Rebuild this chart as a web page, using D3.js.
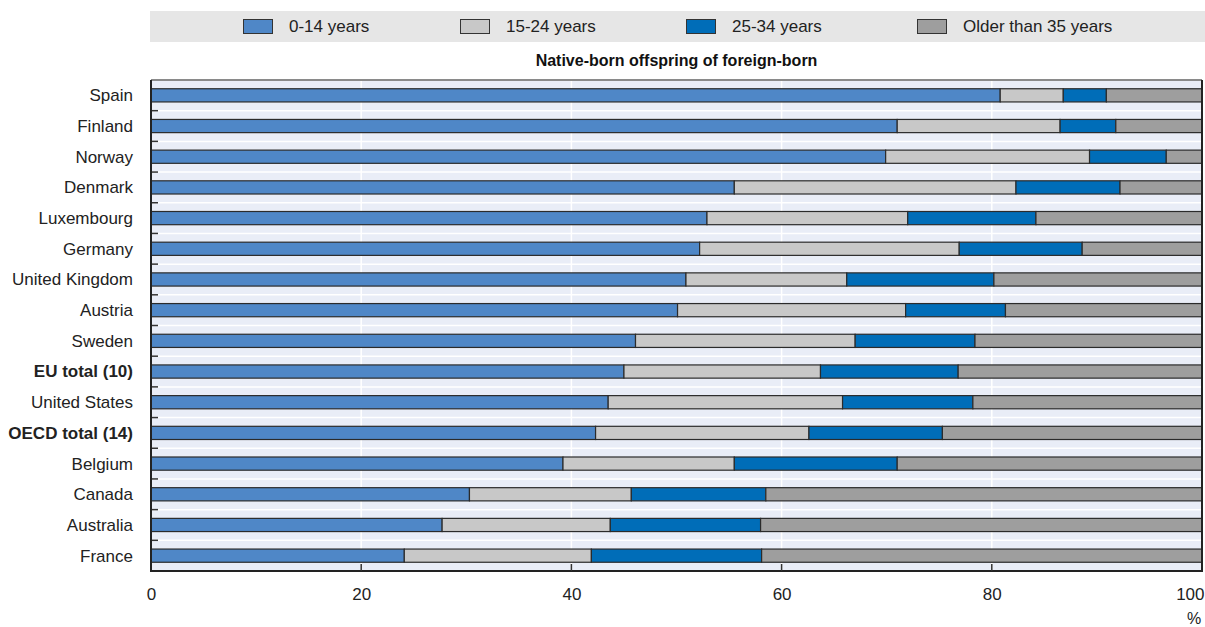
<!DOCTYPE html>
<html>
<head>
<meta charset="utf-8">
<script src="https://cdn.jsdelivr.net/npm/d3@7"></script>
<style>
  body { margin: 0; background: #fff; }
  svg { display: block; font-family: "Liberation Sans", Arial, sans-serif; }
</style>
</head>
<body>
<svg id="chart" width="1205" height="627"></svg>
<script>
// Age breakdown of native-born offspring of foreign-born parents (%)
const countries = ["Spain", "Finland", "Norway", "Denmark", "Luxembourg", "Germany",
  "United Kingdom", "Austria", "Sweden", "EU total (10)", "United States",
  "OECD total (14)", "Belgium", "Canada", "Australia", "France"];
const boldRows = ["EU total (10)", "OECD total (14)"];

const age0to14  = [80.8, 71.0, 69.9, 55.5, 52.9, 52.2, 50.9, 50.1, 46.1, 45.0, 43.5, 42.3, 39.2, 30.3, 27.7, 24.1];
const age15to24 = [6.0, 15.5, 19.4, 26.8, 19.1, 24.7, 15.3, 21.7, 20.9, 18.7, 22.3, 20.3, 16.3, 15.4, 16.0, 17.8];
const age25to34 = [4.1, 5.3, 7.3, 9.9, 12.2, 11.7, 14.0, 9.5, 11.4, 13.1, 12.4, 12.7, 15.5, 12.8, 14.3, 16.2];
const age35plus = [9.1, 8.2, 3.4, 7.8, 15.8, 11.4, 19.8, 18.7, 21.6, 23.2, 21.8, 24.7, 29.0, 41.5, 42.0, 41.9];

const seriesNames = ["0-14 years", "15-24 years", "25-34 years", "Older than 35 years"];
const seriesColors = ["#4f87c7", "#c8c8c8", "#006db8", "#9e9e9e"];
const xTicks = [0, 20, 40, 60, 80, 100];
const chartTitle = "Native-born offspring of foreign-born";
const unitLabel = "%";

const svg = d3.select("#chart");
const plot = { left: 151, right: 1202, top: 80, bottom: 571 };

const rows = countries.map((c, i) => ({
  name: c,
  values: [age0to14[i], age15to24[i], age25to34[i], age35plus[i]]
}));
const keys = [0, 1, 2, 3];
const stacked = d3.stack().keys(keys).value((d, k) => d.values[k])(rows);

const x = d3.scaleLinear().domain([0, 100]).range([plot.left, plot.right]);
const y = d3.scaleBand().domain(countries).range([plot.top, plot.bottom]).paddingInner(0.57).paddingOuter(0.285);
const band = d3.scaleBand().domain(countries).range([plot.top, plot.bottom]);

// Legend strip
const legend = svg.append("g");
legend.append("rect").attr("x", 150).attr("y", 11).attr("width", 1055).attr("height", 31).attr("fill", "#e6e6e6");
const legendX = [243, 460, 686, 917];
seriesNames.forEach((name, i) => {
  legend.append("rect")
    .attr("x", legendX[i] + 0.5).attr("y", 19.5).attr("width", 29).attr("height", 14)
    .attr("fill", seriesColors[i]).attr("stroke", "#333").attr("stroke-width", 1);
  legend.append("text")
    .attr("x", legendX[i] + 46).attr("y", 32)
    .attr("font-size", 17).attr("fill", "#222").text(name);
});

// Title
svg.append("text")
  .attr("x", (plot.left + plot.right) / 2).attr("y", 66)
  .attr("text-anchor", "middle").attr("font-size", 16).attr("font-weight", "bold")
  .attr("fill", "#111").text(chartTitle);

// Plot background
svg.append("rect")
  .attr("x", plot.left).attr("y", plot.top)
  .attr("width", plot.right - plot.left).attr("height", plot.bottom - plot.top)
  .attr("fill", "#e9edf7");

// Vertical grid lines
svg.append("g").selectAll("line").data(xTicks.slice(1, -1)).join("line")
  .attr("x1", d => x(d)).attr("x2", d => x(d))
  .attr("y1", plot.top).attr("y2", plot.bottom)
  .attr("stroke", "#fff").attr("stroke-width", 1.5);

// Horizontal separators between rows, with short ticks on the left
const seps = countries.slice(1).map(c => band(c));
svg.append("g").selectAll("line").data(seps).join("line")
  .attr("x1", plot.left).attr("x2", plot.right)
  .attr("y1", d => d).attr("y2", d => d)
  .attr("stroke", "#fff").attr("stroke-width", 1.5);
svg.append("g").selectAll("line").data(seps).join("line")
  .attr("x1", plot.left).attr("x2", plot.left + 7)
  .attr("y1", d => d).attr("y2", d => d)
  .attr("stroke", "#333").attr("stroke-width", 1.5);

// Stacked bars
svg.append("g").selectAll("g").data(stacked).join("g")
  .attr("fill", (d, i) => seriesColors[i])
  .selectAll("rect").data(d => d).join("rect")
  .attr("x", d => x(d[0]))
  .attr("y", d => y(d.data.name))
  .attr("width", d => x(d[1]) - x(d[0]))
  .attr("height", y.bandwidth())
  .attr("stroke", "#2b2b2b").attr("stroke-width", 1.2);

// Frame
svg.append("line").attr("x1", plot.left).attr("x2", plot.right)
  .attr("y1", plot.top).attr("y2", plot.top).attr("stroke", "#8a8a8a").attr("stroke-width", 2);
svg.append("path")
  .attr("d", `M${plot.left},${plot.top}V${plot.bottom}H${plot.right}V${plot.top}`)
  .attr("fill", "none").attr("stroke", "#222").attr("stroke-width", 2);

// X axis
const xAxis = d3.axisBottom(x).tickValues(xTicks).tickSize(0).tickPadding(17).tickFormat(d3.format("d"));
const gx = svg.append("g").attr("transform", `translate(0,${plot.bottom})`).call(xAxis);
gx.select(".domain").remove();
gx.selectAll("text").attr("font-size", 17).attr("fill", "#222")
  .attr("font-family", "'Liberation Sans', Arial, sans-serif");
// keep the last label inside the page
gx.selectAll(".tick").filter(d => d === 100).select("text")
  .attr("text-anchor", "end").attr("x", 2);
svg.append("g").selectAll("line").data(xTicks.slice(1, -1)).join("line")
  .attr("x1", d => x(d)).attr("x2", d => x(d))
  .attr("y1", plot.bottom).attr("y2", plot.bottom - 7)
  .attr("stroke", "#333").attr("stroke-width", 1.5);
svg.append("text").attr("x", x(100) - 8).attr("y", 624)
  .attr("text-anchor", "middle").attr("font-size", 16).attr("fill", "#222").text(unitLabel);

// Category labels
svg.append("g").selectAll("text").data(countries).join("text")
  .attr("x", 133)
  .attr("y", d => y(d) + y.bandwidth() / 2)
  .attr("dy", "0.35em")
  .attr("text-anchor", "end")
  .attr("font-size", 17)
  .attr("font-weight", d => boldRows.includes(d) ? "bold" : "normal")
  .attr("fill", "#222")
  .text(d => d);
</script>
</body>
</html>
